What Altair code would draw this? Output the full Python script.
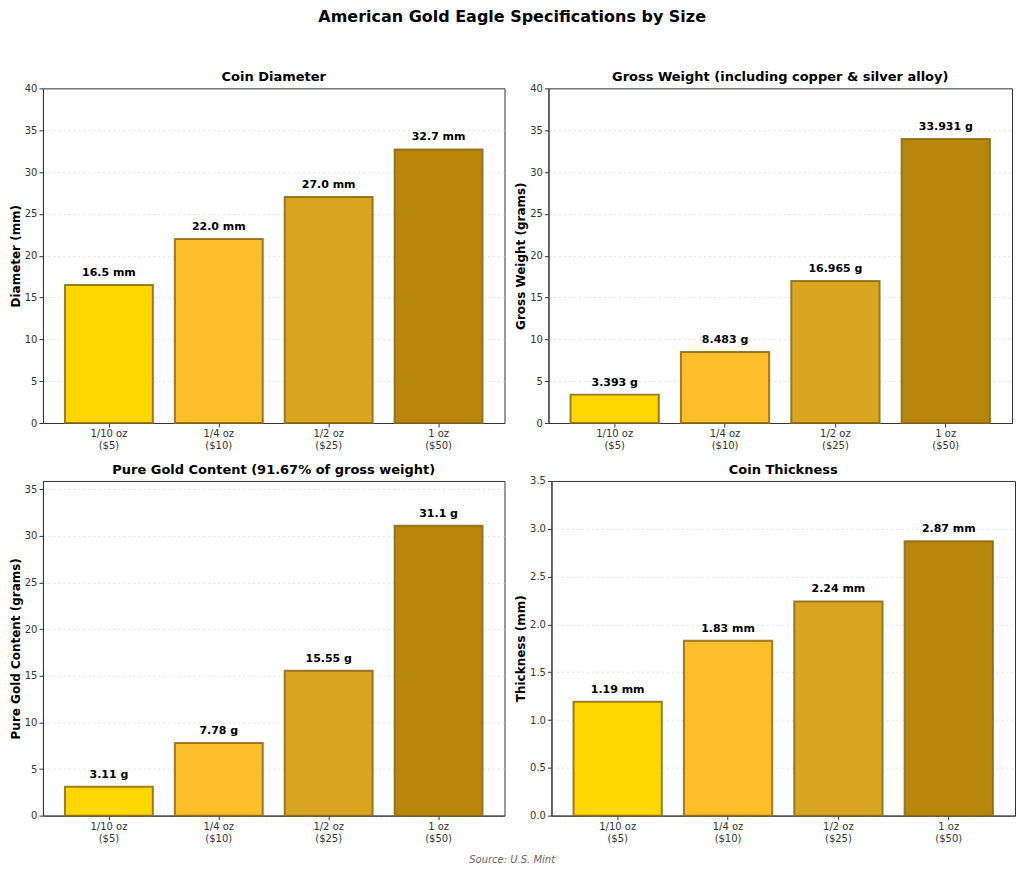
import altair as alt
import pandas as pd

sizes = ["1/10 oz", "1/4 oz", "1/2 oz", "1 oz"]
faces = ["($5)", "($10)", "($25)", "($50)"]
bar_colors = ["#FFD700", "#FDBE2A", "#DAA520", "#B8860B"]

diameter_mm = [16.5, 22.0, 27.0, 32.7]
gross_g = [3.393, 8.483, 16.965, 33.931]
gold_g = [3.11, 7.78, 15.55, 31.1]
thickness_mm = [1.19, 1.83, 2.24, 2.87]

FONT = "DejaVu Sans"
PH = 335


def panel(values, unit, title, ytitle, ymax, ticks, fmt, pw, toff):
    df = pd.DataFrame({
        "cat": [f"{s}\n{f}" for s, f in zip(sizes, faces)],
        "value": values,
        "label": [f"{v} {unit}" for v in values],
    })
    x = alt.X("cat:N", sort=None, title=None,
              scale=alt.Scale(paddingInner=0.2, paddingOuter=0.2),
              axis=alt.Axis(labelAngle=0, labelExpr="split(datum.label, '\\n')",
                            labelLineHeight=12, grid=False))
    y = alt.Y("value:Q", title=ytitle,
              scale=alt.Scale(domain=[0, ymax], nice=False, zero=True),
              axis=alt.Axis(values=ticks, format=fmt,
                            gridOpacity={"condition": {"test": f"datum.value >= {ymax * 0.999}",
                                                       "value": 0}, "value": 0.6}))
    bars = alt.Chart(df).mark_bar(stroke="#8B6914", strokeWidth=2, strokeOpacity=0.85).encode(
        x=x, y=y,
        color=alt.Color("cat:N", sort=None, legend=None,
                        scale=alt.Scale(range=bar_colors)),
    )
    text = alt.Chart(df).mark_text(font=FONT, fontSize=11, fontWeight="bold",
                                   color="#000000", baseline="alphabetic", dy=-9).encode(
        x=alt.X("cat:N", sort=None), y="value:Q", text="label:N")
    return alt.layer(bars, text).properties(
        width=pw, height=PH,
        title=alt.TitleParams(title, fontSize=13, font=FONT, fontWeight="bold",
                              color="#000000", offset=toff))


p1 = panel(diameter_mm, "mm", "Coin Diameter", "Diameter (mm)", 40,
           [0, 5, 10, 15, 20, 25, 30, 35, 40], "d", 462, -1)
p2 = panel(gross_g, "g", "Gross Weight (including copper & silver alloy)",
           "Gross Weight (grams)", 40, [0, 5, 10, 15, 20, 25, 30, 35, 40], "d", 464, -1)
p3 = panel(gold_g, "g", "Pure Gold Content (91.67% of gross weight)",
           "Pure Gold Content (grams)", 35.9, [0, 5, 10, 15, 20, 25, 30, 35], "d", 462, 4)
p4 = panel(thickness_mm, "mm", "Coin Thickness", "Thickness (mm)", 3.5,
           [0, 0.5, 1, 1.5, 2, 2.5, 3, 3.5], ".1f", 464, -1)

grid = alt.vconcat(
    alt.hconcat(p1, p2, spacing=8),
    alt.hconcat(p3, p4, spacing=8),
    spacing=11,
    title=alt.TitleParams("American Gold Eagle Specifications by Size", fontSize=16,
                          font=FONT, fontWeight="bold", color="#000000",
                          anchor="middle", offset=46),
)

chart = alt.vconcat(
    grid,
    padding=0,
    title=alt.TitleParams("Source: U.S. Mint", orient="bottom", fontSize=10,
                          font=FONT, fontStyle="italic", fontWeight="normal",
                          color="#666666", anchor="middle", offset=11),
).configure(
    padding=0,
).configure_view(
    stroke="#333333", strokeWidth=1,
).configure_axis(
    labelFont=FONT, labelFontSize=10, labelColor="#333333",
    titleFont=FONT, titleFontSize=12, titleFontWeight="bold", titleColor="#000000",
    domainColor="#333333", tickColor="#333333", tickSize=4, labelPadding=2,
    titlePadding=2,
    gridColor="#cccccc", gridDash=[2, 3],
).configure_axisX(
    grid=False,
)

chart.save("out.html", embed_options={"renderer": "svg", "actions": False})
